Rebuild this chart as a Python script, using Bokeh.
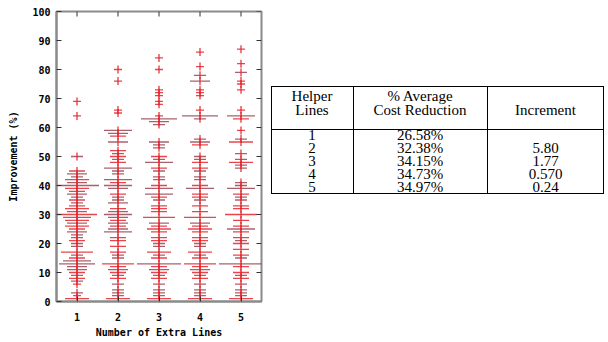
from bokeh.plotting import figure
from bokeh.models import Div, FixedTicker, ColumnDataSource
from bokeh.layouts import row
from bokeh.embed import file_html
from bokeh.resources import INLINE

# ---------------- data ----------------
categories = [1, 2, 3, 4, 5]
y_ticks = [0, 10, 20, 30, 40, 50, 60, 70, 80, 90, 100]

col1_vals = [69, 64, 50, 45, 44, 43, 42, 41, 40, 39, 38, 37, 36, 35, 34, 33, 32, 31, 30, 29, 28, 27, 26, 25, 24,
             23, 22, 21, 20, 19, 17, 16, 15, 14, 13, 12, 11, 10, 9, 8, 7, 6, 3, 2, 1]
col1_counts = [1, 1, 2, 3, 4, 2, 5, 4, 10, 5, 3, 4, 2, 3, 2, 3, 5, 4, 9, 6, 5, 4, 5, 3, 4,
               2, 2, 3, 2, 2, 7, 2, 3, 6, 8, 4, 4, 3, 2, 3, 2, 1, 2, 1, 5]

col2_vals = [80, 76, 66, 65, 59, 58, 57, 55, 52, 51, 50, 49, 48, 46, 45, 44, 42, 41, 40, 39, 37, 36, 35, 34, 32,
             31, 30, 29, 28, 27, 26, 25, 24, 22, 21, 19, 17, 16, 15, 13, 12, 11, 10, 9, 8, 6, 4, 3, 2, 1]
col2_counts = [1, 1, 1, 1, 6, 4, 3, 4, 3, 2, 3, 2, 3, 6, 2, 2, 6, 3, 6, 4, 3, 2, 2, 4, 3,
               4, 6, 4, 3, 4, 3, 4, 6, 3, 3, 3, 3, 2, 2, 7, 3, 4, 3, 2, 3, 2, 2, 2, 2, 5]

col3_vals = [84, 80, 73, 72, 71, 69, 68, 64, 63, 62, 61, 55, 54, 53, 50, 49, 48, 46, 45, 43, 42, 40, 39, 37, 36,
             35, 33, 32, 31, 29, 27, 26, 25, 24, 22, 21, 20, 19, 17, 16, 15, 13, 12, 11, 10, 9, 8, 6, 4, 3, 2, 1]
col3_counts = [1, 1, 1, 1, 1, 1, 1, 1, 8, 4, 2, 4, 2, 2, 3, 2, 6, 3, 2, 2, 2, 3, 6, 6, 3,
               2, 3, 3, 3, 7, 4, 3, 5, 3, 3, 3, 2, 2, 5, 2, 3, 10, 3, 4, 3, 2, 3, 2, 2, 2, 2, 5]

col4_vals = [86, 81, 78, 76, 73, 72, 71, 66, 64, 63, 56, 55, 54, 50, 49, 48, 46, 45, 43, 42, 40, 39, 37, 36, 35,
             33, 31, 29, 27, 26, 25, 24, 22, 21, 20, 19, 17, 16, 15, 13, 12, 11, 10, 9, 8, 6, 4, 3, 2, 1]
col4_counts = [1, 1, 2, 4, 1, 1, 1, 1, 8, 2, 2, 4, 3, 2, 2, 3, 3, 2, 2, 2, 3, 6, 3, 3, 2,
               3, 3, 7, 4, 3, 5, 3, 3, 3, 2, 2, 5, 2, 3, 7, 3, 4, 3, 2, 3, 2, 2, 2, 2, 5]

col5_vals = [87, 82, 79, 76, 75, 73, 66, 64, 63, 59, 56, 55, 51, 49, 48, 47, 46, 41, 40, 39, 37, 36, 35, 33, 32,
             30, 28, 26, 25, 24, 22, 21, 20, 18, 16, 15, 13, 12, 10, 9, 8, 6, 4, 3, 2, 1]
col5_counts = [1, 1, 2, 1, 1, 1, 1, 6, 3, 1, 2, 5, 2, 2, 5, 2, 2, 2, 2, 6, 3, 2, 2, 3, 3,
               7, 3, 3, 6, 3, 3, 2, 3, 3, 3, 2, 10, 3, 3, 2, 3, 2, 2, 2, 2, 5]

header_lines = [["Helper", "Lines"], ["% Average", "Cost Reduction"], ["", "Increment"]]
helper_lines = ["1", "2", "3", "4", "5"]
avg_reduction = ["26.58%", "32.38%", "34.15%", "34.73%", "34.97%"]
increments = ["", "5.80", "1.77", "0.570", "0.24"]

columns = [(col1_vals, col1_counts), (col2_vals, col2_counts), (col3_vals, col3_counts),
           (col4_vals, col4_counts), (col5_vals, col5_counts)]

# ---------------- figure ----------------
FW, FH = 205, 290
X0, X1, Y0, Y1 = 0.5, 5.5, 0, 100
PX_PER_X = FW / (X1 - X0)
PX_PER_Y = FH / (Y1 - Y0)

p = figure(frame_width=FW, frame_height=FH, x_range=(X0, X1), y_range=(Y0, Y1),
           output_backend="svg", toolbar_location=None,
           min_border_left=56, min_border_right=4, min_border_top=11, min_border_bottom=20,
           background_fill_color="white", border_fill_color="white")
p.outline_line_color = "#8a8a8a"
p.outline_line_width = 2
p.grid.visible = False

RED = "#e3262e"
DARK = "#9b4452"

hx0, hx1, hy, hcol = [], [], [], []
vx, vy0, vy1 = [], [], []
for cat, (vals, counts) in zip(categories, columns):
    for v, c in zip(vals, counts):
        hw = (2 + 2 * c) / PX_PER_X
        hx0.append(cat - hw)
        hx1.append(cat + hw)
        hy.append(v)
        hcol.append(DARK if (c % 2 == 0 and c > 1) else RED)
        vx.append(cat)
        vy0.append(v - 4 / PX_PER_Y)
        vy1.append(v + 4 / PX_PER_Y)

hsrc = ColumnDataSource(dict(x0=hx0, x1=hx1, y=hy, color=hcol))
vsrc = ColumnDataSource(dict(x=vx, y0=vy0, y1=vy1))
p.segment(x0="x0", y0="y", x1="x1", y1="y", color="color", line_width=1.3, line_alpha=0.85, source=hsrc)
p.segment(x0="x", y0="y0", x1="x", y1="y1", color=RED, line_width=1.2, source=vsrc)

# mirrored inward ticks on the top and right edges
TICK = 5
p.segment(x0=categories, x1=categories, y0=[Y1 - TICK / PX_PER_Y] * len(categories), y1=[Y1] * len(categories),
          color="#333333", line_width=1)
p.segment(x0=[X1 - TICK / PX_PER_X] * len(y_ticks), x1=[X1] * len(y_ticks), y0=y_ticks, y1=y_ticks,
          color="#333333", line_width=1)

FONT = "DejaVu Sans Mono"
p.xaxis.ticker = FixedTicker(ticks=categories)
p.yaxis.ticker = FixedTicker(ticks=y_ticks)
p.xaxis.axis_label = "Number of Extra Lines"
p.yaxis.axis_label = "Improvement (%)"
for ax in p.xaxis + p.yaxis:
    ax.axis_line_color = "#8a8a8a"
    ax.axis_line_width = 2
    ax.major_tick_in = TICK
    ax.major_tick_out = 0
    ax.minor_tick_line_color = None
    ax.major_tick_line_color = "#333333"
    ax.major_label_text_font = FONT
    ax.major_label_text_font_style = "bold"
    ax.major_label_text_font_size = "10px"
    ax.major_label_text_color = "black"
    ax.axis_label_text_font = FONT
    ax.axis_label_text_font_style = "bold"
    ax.axis_label_text_font_size = "10px"
    ax.axis_label_text_color = "black"
p.xaxis.major_label_standoff = 11
p.xaxis.axis_label_standoff = 3
p.yaxis.major_label_standoff = 6
p.yaxis.axis_label_standoff = 10

# ---------------- table (absolutely positioned boxes) ----------------
TW, TH = 333, 108
col_edges = [0, 82, 216, 333]
HDR_SEP = 43
header_centers = [10, 24]
row_centers = [49.5, 62.5, 75.5, 88.5, 101.5]
LH = 13


def txt(s, c, center):
    x0, x1 = col_edges[c], col_edges[c + 1]
    return (f"<div style='position:absolute;left:{x0}px;width:{x1 - x0}px;top:{center - LH / 2}px;"
            f"height:{LH}px;line-height:{LH}px;text-align:center;white-space:nowrap;'>{s}</div>")


parts = []
parts.append(f"<div style='position:absolute;left:0;top:0;width:{TW}px;height:{TH}px;"
             "border:1px solid #000;box-sizing:border-box;'></div>")
for xe in col_edges[1:-1]:
    parts.append(f"<div style='position:absolute;left:{xe}px;top:0;width:1px;height:{TH}px;background:#000;'></div>")
parts.append(f"<div style='position:absolute;left:0;top:{HDR_SEP}px;width:{TW}px;height:1px;background:#000;'></div>")
for c, lines in enumerate(header_lines):
    for s, yc in zip(lines, header_centers):
        if s:
            parts.append(txt(s, c, yc))
for h, a, inc, yc in zip(helper_lines, avg_reduction, increments, row_centers):
    parts.append(txt(h, 0, yc))
    parts.append(txt(a, 1, yc))
    if inc:
        parts.append(txt(inc, 2, yc))

html = ("<div style=\"position:relative;margin-left:1px;margin-top:81px;width:333px;height:108px;"
        "font-family:'Liberation Serif','Times New Roman',serif;font-size:15px;color:#000;\">"
        + "".join(parts) + "</div>")
div = Div(text=html, width=338, height=200)

layout = row(p, div)
open("out.html", "w").write(file_html(layout, INLINE))
